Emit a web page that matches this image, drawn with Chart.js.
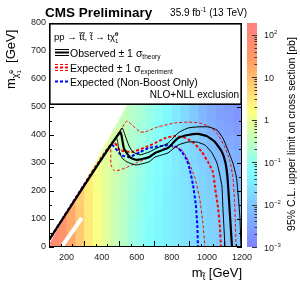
<!DOCTYPE html>
<html>
<head>
<meta charset="utf-8">
<script src="https://cdn.jsdelivr.net/npm/chart.js@4.4.1/dist/chart.umd.min.js"></script>
<style>
  html, body { margin: 0; padding: 0; background: #fff; }
  canvas { display: block; }
</style>
</head>
<body>
<canvas id="limitChart" width="300" height="287"></canvas>
<script>
// limit map bins (lower edges, GeV)
const stopBins = [100, 150, 200, 250, 300, 350, 400, 450, 500, 550, 600, 650, 700, 750, 800, 850, 900, 950, 1000, 1050, 1100, 1150];
const lspBins = [0, 50, 100, 150, 200, 250, 300, 350, 400, 450, 500];
const binWidth = 50;

// 95% CL upper limit on cross section [pb], one row per LSP mass bin
const limitLsp0   = [90, 45, 18, 7, 3, 1.5, 0.8, 0.45, 0.25, 0.15, 0.09, 0.065, 0.05, 0.04, 0.032, 0.026, 0.021, 0.018, 0.015, 0.013, 0.011, 0.010];
const limitLsp50  = [80, 42, 17, 7, 3, 1.5, 0.8, 0.45, 0.25, 0.15, 0.09, 0.065, 0.05, 0.04, 0.032, 0.026, 0.021, 0.018, 0.015, 0.013, 0.011, 0.010];
const limitLsp100 = [null, 40, 16, 7, 3, 1.5, 0.8, 0.45, 0.26, 0.16, 0.1, 0.07, 0.05, 0.04, 0.032, 0.026, 0.021, 0.017, 0.014, 0.012, 0.010, 0.009];
const limitLsp150 = [null, null, 15, 6.5, 3, 1.5, 0.8, 0.45, 0.27, 0.17, 0.1, 0.07, 0.052, 0.04, 0.032, 0.025, 0.02, 0.016, 0.013, 0.011, 0.009, 0.008];
const limitLsp200 = [null, null, null, 6, 2.8, 1.4, 0.8, 0.47, 0.28, 0.18, 0.11, 0.075, 0.055, 0.042, 0.032, 0.025, 0.019, 0.015, 0.012, 0.010, 0.008, 0.007];
const limitLsp250 = [null, null, null, null, 2.5, 1.3, 0.8, 0.5, 0.3, 0.19, 0.12, 0.08, 0.058, 0.043, 0.032, 0.024, 0.018, 0.014, 0.011, 0.009, 0.007, 0.006];
const limitLsp300 = [null, null, null, null, null, 1.2, 0.8, 0.5, 0.32, 0.2, 0.13, 0.09, 0.062, 0.045, 0.032, 0.023, 0.017, 0.012, 0.009, 0.007, 0.006, 0.005];
const limitLsp350 = [null, null, null, null, null, null, 0.75, 0.5, 0.33, 0.22, 0.14, 0.1, 0.068, 0.047, 0.032, 0.022, 0.015, 0.010, 0.007, 0.005, 0.004, 0.0035];
const limitLsp400 = [null, null, null, null, null, null, null, 0.5, 0.35, 0.24, 0.16, 0.11, 0.075, 0.05, 0.032, 0.02, 0.013, 0.008, 0.005, 0.0035, 0.003, 0.0025];
const limitLsp450 = [null, null, null, null, null, null, null, 0.5, 0.36, 0.26, 0.18, 0.12, 0.08, 0.052, 0.032, 0.019, 0.011, 0.006, 0.004, 0.003, 0.0025, 0.002];
const limitLsp500 = [null, null, null, null, null, null, null, null, 0.38, 0.27, 0.19, 0.13, 0.085, 0.055, 0.032, 0.018, 0.010, 0.006, 0.004, 0.003, 0.0024, 0.002];
const limitRows = [limitLsp0, limitLsp50, limitLsp100, limitLsp150, limitLsp200, limitLsp250, limitLsp300, limitLsp350, limitLsp400, limitLsp450, limitLsp500];

// exclusion contours [m_stop, m_LSP] in GeV
const obsCentral = [[100,25],[505,410],[527,352],[562,320],[601,311],[670,321],[704,336],[778,354],[835,389],[892,400],[949,404],[1000,396],[1046,375],[1086,339],[1106,300],[1117,250],[1126,168],[1135,80],[1143,0]];
const obsUp = [[100,25],[516,425],[533,400],[556,361],[579,339],[619,329],[670,339],[704,350],[778,371],[835,407],[892,425],[949,429],[1006,429],[1057,418],[1091,389],[1120,346],[1148,300],[1168,250],[1177,193],[1188,107],[1194,0]];
const obsDown = [[100,25],[482,392],[499,346],[516,318],[544,304],[596,293],[670,304],[704,321],[778,336],[835,364],[892,375],[943,375],[989,364],[1029,336],[1057,300],[1074,257],[1086,214],[1091,143],[1097,71],[1103,0]];
const expCentral = [[100,25],[465,376],[505,346],[573,339],[653,357],[704,371],[761,389],[818,396],[881,389],[926,371],[972,339],[1006,304],[1034,268],[1046,214],[1063,143],[1074,71],[1080,0]];
const expUp = [[100,25],[499,409],[544,450],[573,436],[619,411],[647,411],[721,429],[818,443],[892,446],[960,443],[1017,429],[1057,407],[1100,360],[1130,310],[1148,250],[1157,170],[1162,90],[1166,0]];
const expDown = [[100,25],[448,359],[453,293],[476,271],[533,282],[596,300],[675,321],[761,354],[818,357],[858,346],[892,311],[932,246],[960,168],[977,86],[989,0]];
const expNonBoost = [[100,25],[453,366],[510,329],[556,321],[619,339],[670,354],[704,357],[778,364],[829,357],[858,339],[886,311],[903,275],[921,221],[937,150],[945,79],[949,0]];

// edge of the scanned signal grid and the top corridor that was left out
const kinematicEdge = [[100,10],[250,172],[560,525],[720,710]];
const topCorridor = [[176,4],[287,104]];

// axis ticks
const xTickLabels = [200, 400, 600, 800, 1000, 1200];
const yTickLabels = [0, 100, 200, 300, 400, 500, 600, 700, 800];
const zTickValues = [100, 10, 1, 0.1, 0.01, 0.001];
const zTickBase = ['10', '10', '1', '10', '10', '10'];
const zTickExp = ['2', '', '', '\u22121', '\u22122', '\u22123'];
const zMin = 0.001, zMax = 190;

const FONT = '"Liberation Sans", Arial, Helvetica, sans-serif';
function fontOf(size, bold) { return (bold ? 'bold ' : '') + size + 'px ' + FONT; }

// ROOT style palette used by CMS SUSY
const palStops = [0, 0.34, 0.61, 0.84, 1];
const palRGB = [[128,128,255],[128,255,255],[255,255,128],[255,153,102],[255,128,128]];
function paletteColor(t) {
    t = Math.max(0, Math.min(1, t));
    let i = 0;
    while (i < palStops.length - 2 && t > palStops[i + 1]) i++;
    const f = (t - palStops[i]) / (palStops[i + 1] - palStops[i]);
    const c = palRGB[i].map((v, k) => Math.round(v + (palRGB[i + 1][k] - v) * f));
    return 'rgb(' + c.join(',') + ')';
}
function limitColor(cb, v) {
    const p = cb.getPixelForValue(v);
    return paletteColor((cb.bottom - p) / (cb.bottom - cb.top));
}

function richWidth(ctx, parts) {
    let w = 0;
    parts.forEach(p => { ctx.font = fontOf(p.s, p.b); if (!p.hold) w += ctx.measureText(p.t).width; });
    return w;
}
function drawRich(ctx, x, y, parts, align) {
    const w = richWidth(ctx, parts);
    let cx = align === 'right' ? x - w : align === 'center' ? x - w / 2 : x;
    ctx.textAlign = 'left';
    ctx.textBaseline = 'alphabetic';
    parts.forEach(p => {
        ctx.font = fontOf(p.s, p.b);
        ctx.fillText(p.t, cx, y + (p.dy || 0));
        if (!p.hold) cx += ctx.measureText(p.t).width;
    });
}

const pts = list => list.map(p => ({ x: p[0], y: p[1] }));

// 热图：截面上限
const limitMap = {
    id: 'limitMap',
    beforeDatasetsDraw(chart) {
        const { ctx, chartArea: a, scales: { x, y, cb } } = chart;
        ctx.save();
        ctx.beginPath();
        ctx.rect(a.left, a.top, a.right - a.left, a.bottom - a.top);
        ctx.clip();
        limitRows.forEach((row, r) => {
            const y0 = y.getPixelForValue(lspBins[r]);
            const y1 = y.getPixelForValue(lspBins[r] + binWidth);
            row.forEach((v, c) => {
                if (v == null) return;
                const x0 = x.getPixelForValue(stopBins[c]);
                const x1 = x.getPixelForValue(stopBins[c] + binWidth);
                ctx.fillStyle = limitColor(cb, v);
                ctx.fillRect(x0, y1, x1 - x0 + 0.6, y0 - y1 + 0.6);
            });
        });
        ctx.restore();
    },
    afterDatasetsDraw(chart) {
        const { ctx, chartArea: a, scales: { x, y } } = chart;
        ctx.save();
        // inner ticks
        ctx.strokeStyle = '#000';
        ctx.lineWidth = 1;
        ctx.beginPath();
        for (let v = 0; v <= 800; v += 50) {
            const py = Math.round(y.getPixelForValue(v)) + 0.5;
            const len = v % 100 === 0 ? 5 : 3;
            ctx.moveTo(a.left, py); ctx.lineTo(a.left + len, py);
            ctx.moveTo(a.right, py); ctx.lineTo(a.right - len, py);
        }
        for (let k = 1; k <= 16; k++) {
            const v = 100 + k * 200 / 3;
            const px = Math.round(x.getPixelForValue(v)) + 0.5;
            const len = k % 3 === 0 ? 6 : 3;
            ctx.moveTo(px, a.bottom); ctx.lineTo(px, a.bottom - len);
        }
        ctx.stroke();

        // legend box
        const top = a.top, bot = a.top + 82;
        ctx.fillStyle = '#fff';
        ctx.fillRect(a.left, top, a.right - a.left, bot - top);
        ctx.lineWidth = 1.6;
        ctx.strokeRect(a.left + 0.8, top + 0.8, a.right - a.left - 1.6, bot - top - 1.6);

        const L = a.left;
        ctx.fillStyle = '#000';
        drawRich(ctx, L + 5, top + 17, [
            { t: 'pp \u2192 t\u0303t\u0303, t\u0303 \u2192 t\u03c7\u0303', s: 9.5 },
            { t: '0', s: 6, dy: -4, hold: true },
            { t: '1', s: 6, dy: 2.5 }
        ]);

        const sx0 = L + 6, sx1 = L + 20, tx = L + 21;
        // observed symbol
        ctx.setLineDash([]);
        ctx.strokeStyle = '#000';
        ctx.lineWidth = 2; ctx.beginPath(); ctx.moveTo(sx0, top + 29.5); ctx.lineTo(sx1, top + 29.5); ctx.stroke();
        ctx.lineWidth = 1; ctx.beginPath();
        ctx.moveTo(sx0, top + 26.5); ctx.lineTo(sx1, top + 26.5);
        ctx.moveTo(sx0, top + 32.5); ctx.lineTo(sx1, top + 32.5); ctx.stroke();
        drawRich(ctx, tx, top + 33.5, [{ t: 'Observed \u00b1 1 \u03c3', s: 10.5 }, { t: 'theory', s: 6.5, dy: 2 }]);

        // expected symbol
        ctx.strokeStyle = '#ff0000';
        ctx.setLineDash([3, 2]);
        ctx.lineWidth = 2; ctx.beginPath(); ctx.moveTo(sx0, top + 44.5); ctx.lineTo(sx1, top + 44.5); ctx.stroke();
        ctx.lineWidth = 1; ctx.beginPath();
        ctx.moveTo(sx0, top + 41.5); ctx.lineTo(sx1, top + 41.5);
        ctx.moveTo(sx0, top + 47.5); ctx.lineTo(sx1, top + 47.5); ctx.stroke();
        drawRich(ctx, tx, top + 48.5, [{ t: 'Expected \u00b1 1 \u03c3', s: 10.5 }, { t: 'experiment', s: 6.5, dy: 2 }]);

        // non-boost expected symbol
        ctx.strokeStyle = '#0000ff';
        ctx.lineWidth = 2; ctx.beginPath(); ctx.moveTo(sx0, top + 58.5); ctx.lineTo(sx1, top + 58.5); ctx.stroke();
        ctx.setLineDash([]);
        drawRich(ctx, tx, top + 62.5, [{ t: 'Expected (Non-Boost Only)', s: 10.5 }]);

        drawRich(ctx, a.right - 3, top + 75, [{ t: 'NLO+NLL exclusion', s: 10 }], 'right');
        ctx.restore();
    },
    afterDraw(chart) {
        const { ctx, chartArea: a, scales: { cb } } = chart;
        ctx.save();
        // frame
        ctx.strokeStyle = '#000';
        ctx.lineWidth = 1;
        ctx.strokeRect(a.left + 0.5, a.top + 0.5, a.right - a.left - 1, a.bottom - a.top - 1);

        // colour bar
        const bx0 = a.right + 5, bx1 = a.right + 15;
        for (let py = Math.floor(cb.top); py < cb.bottom; py++) {
            ctx.fillStyle = paletteColor((cb.bottom - (py + 0.5)) / (cb.bottom - cb.top));
            ctx.fillRect(bx0, py, bx1 - bx0, 1);
        }
        ctx.strokeStyle = '#333';
        ctx.beginPath();
        for (let d = -3; d <= 2; d++) {
            for (let m = 1; m <= 9; m++) {
                const v = m * Math.pow(10, d);
                if (v > zMax) break;
                const py = Math.round(cb.getPixelForValue(v)) + 0.5;
                ctx.moveTo(bx1, py); ctx.lineTo(bx1 - (m === 1 ? 5 : 2.5), py);
            }
        }
        ctx.stroke();
        ctx.fillStyle = '#222';
        zTickValues.forEach((v, i) => {
            const py = cb.getPixelForValue(v) + 3.5;
            const parts = [{ t: zTickBase[i], s: 9 }];
            if (zTickExp[i]) parts.push({ t: zTickExp[i], s: 6, dy: -4 });
            drawRich(ctx, a.right + 22, py, parts);
        });

        // titles
        ctx.fillStyle = '#000';
        drawRich(ctx, 45, 17, [{ t: 'CMS Preliminary', s: 13.5, b: true }]);
        drawRich(ctx, 247, 16, [{ t: '35.9 fb', s: 10 }, { t: '-1', s: 6.5, dy: -4 }, { t: ' (13 TeV)', s: 10 }], 'right');

        drawRich(ctx, a.right, 277, [{ t: 'm', s: 13 }, { t: 't\u0303', s: 9, dy: 3 }, { t: ' [GeV]', s: 13 }], 'right');

        ctx.save();
        ctx.translate(15, 89);
        ctx.rotate(-Math.PI / 2);
        drawRich(ctx, 0, 0, [
            { t: 'm', s: 13 },
            { t: '\u03c7\u0303', s: 9, dy: 3 },
            { t: '0', s: 6, dy: -2, hold: true },
            { t: '1', s: 6, dy: 6 },
            { t: '  [GeV]', s: 13 }
        ]);
        ctx.restore();

        ctx.save();
        ctx.translate(295, 134);
        ctx.rotate(-Math.PI / 2);
        drawRich(ctx, 0, 0, [{ t: '95% C.L. upper limit on cross section [pb]', s: 10.5 }], 'center');
        ctx.restore();
        ctx.restore();
    }
};

const lineBase = { showLine: true, pointRadius: 0, tension: 0.15, fill: false };

new Chart(document.getElementById('limitChart'), {
    type: 'scatter',
    data: {
        datasets: [
            Object.assign({ data: pts(obsCentral), borderColor: '#000', borderWidth: 2.2, order: 1 }, lineBase),
            Object.assign({ data: pts(obsUp), borderColor: '#000', borderWidth: 1, order: 1 }, lineBase),
            Object.assign({ data: pts(obsDown), borderColor: '#000', borderWidth: 1, order: 1 }, lineBase),
            Object.assign({ data: pts(expCentral), borderColor: '#ff0000', borderWidth: 2, borderDash: [3, 2], order: 2 }, lineBase),
            Object.assign({ data: pts(expUp), borderColor: '#ff0000', borderWidth: 1, borderDash: [3, 2], order: 2 }, lineBase),
            Object.assign({ data: pts(expDown), borderColor: '#ff0000', borderWidth: 1, borderDash: [3, 2], order: 2 }, lineBase),
            Object.assign({ data: pts(expNonBoost), borderColor: '#0000ff', borderWidth: 2, borderDash: [3, 2], order: 3 }, lineBase),
            { data: pts(topCorridor), showLine: true, pointRadius: 0, borderColor: '#fff', borderWidth: 4, borderCapStyle: 'butt', order: 4 },
            { data: pts(kinematicEdge), showLine: true, pointRadius: 0, borderWidth: 0, borderColor: '#fff', backgroundColor: '#fff', fill: 'end', order: 5 }
        ]
    },
    options: {
        responsive: false,
        animation: false,
        events: [],
        layout: { padding: { top: 23, right: 58, left: 0, bottom: 0 } },
        plugins: { legend: { display: false }, tooltip: { enabled: false }, title: { display: false } },
        scales: {
            x: {
                type: 'linear', min: 100, max: 1200,
                afterBuildTicks: s => { s.ticks = xTickLabels.map(v => ({ value: v })); },
                afterFit: s => { s.height = 40; },
                grid: { display: false, drawTicks: false },
                border: { display: false },
                ticks: { padding: 5, color: '#222', maxRotation: 0, autoSkip: false, font: { family: FONT, size: 9 }, callback: v => String(v) }
            },
            y: {
                type: 'linear', min: 0, max: 800,
                afterBuildTicks: s => { s.ticks = yTickLabels.map(v => ({ value: v })); },
                afterFit: s => { s.width = 49; },
                grid: { display: false, drawTicks: false },
                border: { display: false },
                ticks: { padding: 3, color: '#222', font: { family: FONT, size: 9 }, callback: v => String(v) }
            },
            cb: {
                type: 'logarithmic', position: 'right', min: zMin, max: zMax,
                afterFit: s => { s.width = 0; },
                grid: { display: false, drawTicks: false },
                border: { display: false },
                ticks: { display: false }
            }
        }
    },
    plugins: [limitMap]
});
</script>
</body>
</html>
